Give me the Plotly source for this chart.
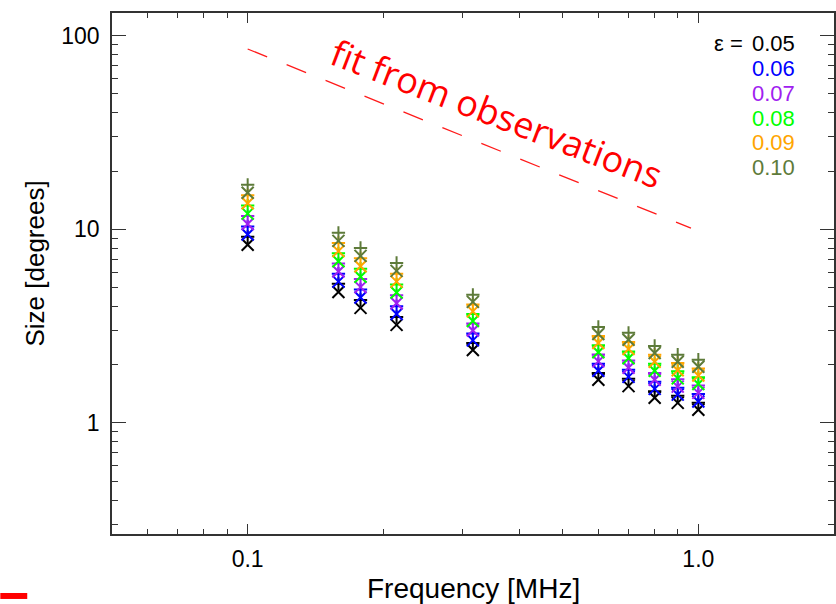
import plotly.graph_objects as go
import numpy as np

# ---- data ----
freq = [0.1, 0.159, 0.178, 0.214, 0.316, 0.6, 0.7, 0.8, 0.9, 1.0]

eps_labels = ["0.05", "0.06", "0.07", "0.08", "0.09", "0.10"]
eps_colors = ["#000000", "#0000ff", "#a020f0", "#00ff00", "#ffa500", "#5e7b3a"]

# "x" markers
size_x = [
    [8.32, 4.75, 3.93, 3.21, 2.38, 1.67, 1.55, 1.35, 1.27, 1.17],
    [9.41, 5.37, 4.45, 3.65, 2.67, 1.86, 1.73, 1.50, 1.40, 1.29],
    [10.65, 6.06, 5.03, 4.15, 3.00, 2.08, 1.93, 1.67, 1.54, 1.43],
    [12.05, 6.84, 5.69, 4.72, 3.36, 2.32, 2.16, 1.86, 1.70, 1.59],
    [13.64, 7.72, 6.45, 5.37, 3.77, 2.59, 2.41, 2.07, 1.87, 1.76],
    [15.44, 8.72, 7.29, 6.10, 4.22, 2.88, 2.69, 2.30, 2.07, 1.95],
]
# "+" markers
size_plus = [
    [9.15, 5.23, 4.32, 3.53, 2.59, 1.81, 1.69, 1.46, 1.38, 1.27],
    [10.35, 5.90, 4.89, 4.01, 2.90, 2.02, 1.88, 1.63, 1.52, 1.41],
    [11.71, 6.66, 5.54, 4.56, 3.26, 2.26, 2.10, 1.81, 1.68, 1.56],
    [13.26, 7.52, 6.26, 5.19, 3.65, 2.52, 2.34, 2.02, 1.85, 1.72],
    [15.01, 8.50, 7.09, 5.90, 4.09, 2.81, 2.62, 2.25, 2.04, 1.91],
    [16.98, 9.59, 8.02, 6.71, 4.59, 3.13, 2.92, 2.50, 2.25, 2.12],
]

fit_freq = [0.1, 0.963]
fit_size = [85.4, 10.15]
fit_label = "fit from observations"

x_tickvals = [0.1, 1.0]
x_ticktext = ["0.1", "1.0"]
y_tickvals = [1, 10, 100]
y_ticktext = ["1", "10", "100"]

x_range = [0.05, 2.0]
y_range = [0.267, 131]

# ---- figure ----
fig = go.Figure()

fig.add_trace(go.Scatter(
    x=fit_freq, y=fit_size, mode="lines",
    line=dict(color="#ff1a1a", width=1.3, dash="21px,21px"),
    showlegend=False, hoverinfo="skip"))

for lab, col, sx, sp in zip(eps_labels, eps_colors, size_x, size_plus):
    fig.add_trace(go.Scatter(
        x=freq, y=sx, mode="markers",
        marker=dict(symbol="x-thin", size=12, line=dict(color=col, width=2)),
        showlegend=False))
    fig.add_trace(go.Scatter(
        x=freq, y=sp, mode="markers",
        marker=dict(symbol="cross-thin", size=9.5, line=dict(color=col, width=2)),
        showlegend=False))

axis_font = dict(family="Liberation Sans, Arial, sans-serif", size=23, color="#000000")

fig.update_xaxes(
    type="log", range=[np.log10(x_range[0]), np.log10(x_range[1])],
    tickmode="array", tickvals=x_tickvals, ticktext=x_ticktext,
    ticks="inside", ticklen=10, tickwidth=1.3, tickcolor="#333333",
    showline=True, linecolor="#333333", linewidth=1.5, mirror="allticks",
    showgrid=False, zeroline=False, tickfont=axis_font, ticklabelstandoff=4,
    minor=dict(tickmode="linear", dtick="D1", ticks="inside", ticklen=5,
               tickwidth=1.2, tickcolor="#333333", showgrid=False))

fig.update_yaxes(
    type="log", range=[np.log10(y_range[0]), np.log10(y_range[1])],
    tickmode="array", tickvals=y_tickvals, ticktext=y_ticktext,
    ticks="inside", ticklen=14, tickwidth=1.3, tickcolor="#333333",
    showline=True, linecolor="#333333", linewidth=1.5, mirror="allticks",
    showgrid=False, zeroline=False, tickfont=axis_font, ticklabelstandoff=6,
    minor=dict(tickmode="linear", dtick="D1", ticks="inside", ticklen=6,
               tickwidth=1.2, tickcolor="#333333", showgrid=False))

annotations = []
# axis titles
annotations.append(dict(text="Frequency [MHz]", xref="paper", yref="paper",
                        x=0.5, y=-0.104, xanchor="center", yanchor="middle",
                        showarrow=False,
                        font=dict(family="Liberation Sans, Arial, sans-serif", size=28, color="#000")))
annotations.append(dict(text="Size [degrees]", xref="paper", yref="paper",
                        x=-0.106, y=0.52, xanchor="center", yanchor="middle",
                        textangle=-90, showarrow=False,
                        font=dict(family="Liberation Sans, Arial, sans-serif", size=26, color="#000")))
# legend (epsilon values)
annotations.append(dict(text="ε =", xref="paper", yref="paper",
                        x=0.877, y=0.9405, xanchor="right", yanchor="middle",
                        showarrow=False,
                        font=dict(family="Liberation Sans, Arial, sans-serif", size=22, color="#000")))
for i, (lab, col) in enumerate(zip(eps_labels, eps_colors)):
    annotations.append(dict(text=lab, xref="paper", yref="paper",
                            x=0.884, y=0.9405 - i * 0.0474, xanchor="left", yanchor="middle",
                            showarrow=False,
                            font=dict(family="Liberation Sans, Arial, sans-serif", size=22, color=col)))
# fit label
annotations.append(dict(text=fit_label, x=-0.448, y=1.597, xref="x", yref="y",
                        xanchor="center", yanchor="middle", textangle=21,
                        showarrow=False,
                        font=dict(family="Open Sans, sans-serif", size=36, color="#ff0000")))

fig.update_layout(
    width=836, height=604,
    margin=dict(l=112, r=0, t=13, b=70),
    plot_bgcolor="white", paper_bgcolor="white",
    annotations=annotations,
    shapes=[dict(type="rect", xref="paper", yref="paper",
                 x0=-0.1547, x1=-0.1174, y0=-0.1247, y1=-0.1132,
                 fillcolor="#ff0000", line=dict(width=0))],
)

fig.write_html("out.html")
